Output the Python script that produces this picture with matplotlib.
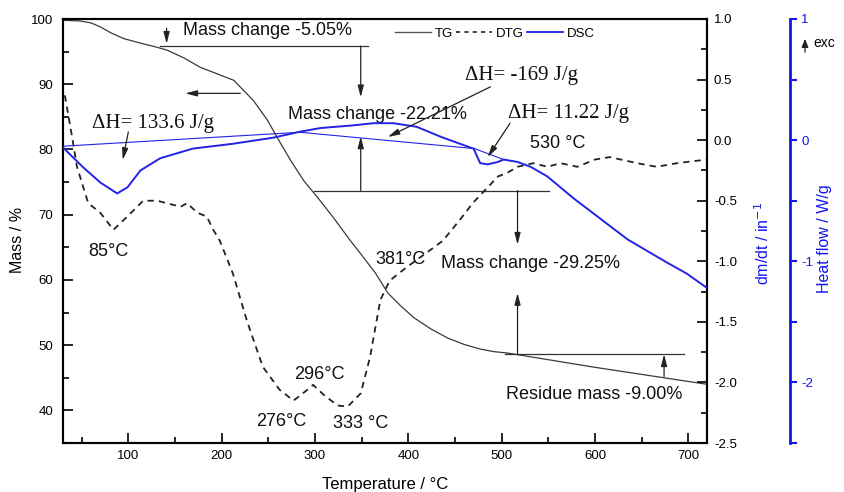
import matplotlib
matplotlib.use("Agg")
import matplotlib.pyplot as plt
from matplotlib.ticker import MultipleLocator, FixedLocator
from matplotlib.lines import Line2D

plt.rcParams['font.family'] = ['Liberation Sans', 'DejaVu Sans']

# TG curve (mass %, left axis)
tg_temp = [30, 48, 60, 70, 81, 95, 113, 130, 142, 160, 177, 213, 234, 249, 260, 274, 288,
           303, 320, 338, 349, 365, 378, 392, 406, 424, 442, 460, 477, 492, 506, 600, 720]
tg_mass = [99.8, 99.7, 99.4, 98.8, 97.9, 97.0, 96.3, 95.7, 95.2, 94.0, 92.6, 90.6, 87.5, 84.5, 81.7, 78.3, 75.2,
           72.6, 69.5, 66.0, 64.0, 61.0, 58.0, 56.0, 54.2, 52.5, 51.1, 50.1, 49.4, 49.0, 48.8, 46.6, 44.0]

# DTG curve (dm/dt, first right axis)
dtg_temp = [32, 39, 45, 57, 70, 84, 99, 116, 131, 141, 156, 163, 174, 184, 191, 198, 212, 227,
            244, 262, 277, 292, 298, 309, 324, 335, 349, 359, 370, 380, 398, 423, 437, 455, 469,
            485, 496, 506, 517, 534, 549, 563, 581, 600, 616, 645, 666, 688, 720]
dtg_val = [0.37, 0.06, -0.22, -0.52, -0.60, -0.74, -0.63, -0.50, -0.50, -0.52, -0.55, -0.52, -0.60,
           -0.63, -0.74, -0.83, -1.10, -1.49, -1.87, -2.06, -2.15, -2.06, -2.02, -2.10, -2.19, -2.20,
           -2.09, -1.79, -1.32, -1.16, -1.05, -0.91, -0.83, -0.66, -0.52, -0.39, -0.30, -0.27, -0.22,
           -0.19, -0.22, -0.19, -0.22, -0.16, -0.14, -0.19, -0.22, -0.19, -0.16]

# DSC curve (heat flow W/g, second right axis)
dsc_temp = [30, 51, 70, 88, 99, 113, 134, 169, 212, 255, 284, 306, 338, 363, 384, 409, 434, 466,
            470, 474, 477, 485, 496, 502, 517, 531, 549, 577, 635, 677, 698, 720]
dsc_val = [-0.06, -0.22, -0.35, -0.44, -0.39, -0.25, -0.15, -0.07, -0.03, 0.02, 0.07, 0.10, 0.12,
           0.14, 0.14, 0.11, 0.03, -0.06, -0.07, -0.14, -0.19, -0.20, -0.18, -0.16, -0.18, -0.22,
           -0.30, -0.48, -0.82, -1.01, -1.10, -1.22]

# DSC integration baselines
base1_temp, base1_val = [30, 284], [-0.05, 0.065]
base2_temp, base2_val = [284, 471], [0.065, -0.07]
base3_temp, base3_val = [471, 502], [-0.07, -0.16]

# peak labels (temperature, mass-axis y)
peak_labels = ["85°C", "276°C", "296°C", "333 °C", "381°C", "530 °C"]
peak_x = [79, 264, 305, 349, 392, 560]
peak_y = [64.3, 38.3, 45.5, 38.0, 63.1, 80.9]

# mass change steps
step_labels = ["Mass change -5.05%", "Mass change -22.21%", "Mass change -29.25%", "Residue mass -9.00%"]

fig = plt.figure(figsize=(8.44, 4.92), dpi=100)
ax = fig.add_axes([63 / 844, 1 - 443 / 492, 644 / 844, 424 / 492])
ax2 = ax.twinx()
ax3 = ax.twinx()

blue = '#2323e6'
axblue = '#1414f0'

ax.plot(tg_temp, tg_mass, color='#3a3a3a', lw=0.9)
ax2.plot(dtg_temp, dtg_val, color='#222222', lw=1.3, ls=(0, (3.5, 2.8)))
ax3.plot(dsc_temp, dsc_val, color=blue, lw=1.4)
for bt, bv in [(base1_temp, base1_val), (base2_temp, base2_val), (base3_temp, base3_val)]:
    ax3.plot(bt, bv, color=blue, lw=0.8)

ax.set_xlim(30, 720)
ax.set_ylim(35, 100)
ax2.set_ylim(-2.5, 1.0)
ax3.set_ylim(-2.5, 1.0)

ax.xaxis.set_major_locator(MultipleLocator(100))
ax.xaxis.set_minor_locator(MultipleLocator(50))
ax.yaxis.set_major_locator(FixedLocator([40, 50, 60, 70, 80, 90, 100]))
ax.yaxis.set_minor_locator(MultipleLocator(5))
ax2.yaxis.set_major_locator(MultipleLocator(0.5))
ax2.yaxis.set_minor_locator(MultipleLocator(0.25))
ax2.yaxis.set_major_formatter(matplotlib.ticker.FormatStrFormatter('%.1f'))
ax3.yaxis.set_major_locator(FixedLocator([-2, -1, 0, 1]))
ax3.yaxis.set_minor_locator(MultipleLocator(0.5))
ax3.yaxis.set_major_formatter(matplotlib.ticker.FormatStrFormatter('%d'))

for a in (ax, ax2, ax3):
    for s in a.spines.values():
        s.set_linewidth(1.5)
ax.tick_params(axis='both', which='both', direction='in', width=1.2, labelsize=9.5, colors='k',
               top=False, right=False)
ax.tick_params(which='major', length=7)
ax.tick_params(which='minor', length=4)
ax.tick_params(axis='y', pad=7)
ax.tick_params(axis='x', pad=5)
ax2.tick_params(axis='y', which='both', direction='in', width=1.2, labelsize=9.5, pad=5)
ax2.tick_params(axis='y', which='major', length=7)
ax2.tick_params(axis='y', which='minor', length=4)

ax3.spines['right'].set_position(('outward', 59.8))
ax3.spines['right'].set_color(axblue)
ax3.spines['right'].set_linewidth(2)
for side in ('left', 'top', 'bottom'):
    ax3.spines[side].set_visible(False)
ax3.tick_params(axis='y', which='both', direction='out', colors=axblue, width=1.5,
                labelsize=9.5, pad=3)
ax3.tick_params(axis='y', which='major', length=5)
ax3.tick_params(axis='y', which='minor', length=5)

ax.set_ylabel("Mass / %", fontsize=11.5)
ax.yaxis.label.set_va('center')
ax.yaxis.set_label_coords(-0.070, 0.48)
ax.set_xlabel("Temperature / °C", fontsize=12)
ax.xaxis.label.set_va('center')
ax.xaxis.set_label_coords(0.50, -0.099)
ax2.set_ylabel("dm/dt / in$^{-1}$", fontsize=11.5, color=axblue)
ax2.yaxis.label.set_va('center')
ax2.yaxis.set_label_coords(1.087, 0.472)
ax3.set_ylabel("Heat flow / W/g", fontsize=11.5, color=axblue)
ax3.yaxis.label.set_va('center')
ax3.yaxis.set_label_coords(1.183, 0.483)

# legend
handles = [Line2D([], [], color='#555555', lw=1.0),
           Line2D([], [], color='#222222', lw=1.2, ls=(0, (2.5, 2.5))),
           Line2D([], [], color=blue, lw=1.3)]
fig.legend(handles, ["TG", "DTG", "DSC"], loc='center left', bbox_to_anchor=(395 / 844, 1 - 34 / 492),
           ncol=3, frameon=False, fontsize=9.5, handlelength=2.7, handletextpad=0.3,
           columnspacing=0.25, borderpad=0, borderaxespad=0)

# TG annotations
ln = dict(color='#333333', lw=0.9)
arr = dict(arrowstyle='-|>,head_width=0.18,head_length=0.7', color='#222222', lw=0.9, shrinkA=0, shrinkB=0)
txt = dict(fontsize=13, color='#111111')

ax.plot([134, 357], [95.85, 95.85], **ln)
ax.annotate('', xy=(141, 96.2), xytext=(141, 98.6), arrowprops=arr)
ax.text(159, 98.3, step_labels[0], ha='left', va='center', **txt)
ax.annotate('', xy=(161, 88.6), xytext=(220, 88.6), arrowprops=arr)
ax.annotate('', xy=(349, 88.0), xytext=(349, 95.85), arrowprops=arr)
ax.text(367, 85.4, step_labels[1], ha='center', va='center', **txt)
ax.annotate('', xy=(349, 82.0), xytext=(349, 73.7), arrowprops=arr)
ax.plot([299, 551], [73.7, 73.7], **ln)
ax.annotate('', xy=(517, 65.4), xytext=(517, 73.7), arrowprops=arr)
ax.text(531, 62.5, step_labels[2], ha='center', va='center', **txt)
ax.annotate('', xy=(517, 58.0), xytext=(517, 48.6), arrowprops=arr)
ax.plot([504, 695], [48.6, 48.6], **ln)
ax.annotate('', xy=(674, 48.6), xytext=(674, 45.2), arrowprops=arr)
ax.text(599, 42.5, step_labels[3], ha='center', va='center', **txt)

for lab, x, y in zip(peak_labels, peak_x, peak_y):
    ax.text(x, y, lab, ha='center', va='center', **txt)

# DSC annotations
serif = dict(fontsize=15, family=['Liberation Serif', 'DejaVu Serif'], color='#111111')
ax3.text(61.5, 0.14, "ΔH= 133.6 J/g", ha='left', va='center', **serif)
ax3.annotate('', xy=(94, -0.164), xytext=(100, 0.067), arrowprops=arr)
ax3.text(461, 0.53, "ΔH= -169 J/g", ha='left', va='center', **serif)
ax3.annotate('', xy=(378, 0.026), xytext=(488, 0.44), arrowprops=arr)
ax3.text(507, 0.22, "ΔH= 11.22 J/g", ha='left', va='center', **serif)
ax3.annotate('', xy=(485, -0.14), xytext=(509, 0.14), arrowprops=arr)

# exc marker
fig.text(813 / 844, 1 - 43 / 492, "exc", fontsize=10, ha='left', va='center')
fig.add_artist(matplotlib.patches.FancyArrowPatch((805, 492 - 55), (805, 492 - 36),
               transform=None, arrowstyle='-|>,head_width=2,head_length=5', color='#222222', lw=0.9))

fig.savefig("out.png", dpi=100)
